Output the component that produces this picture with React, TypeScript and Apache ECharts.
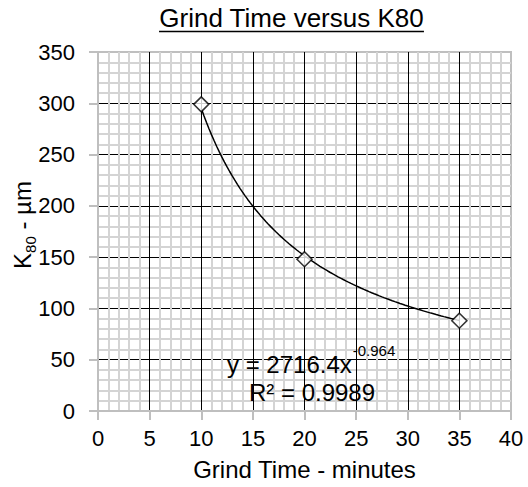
import React, { useEffect, useRef } from "react";
import * as echarts from "echarts";

// ---- data ----
const grindTime = [10, 20, 35];
const k80 = [299, 148, 88];
const trendCoef = 2716.4;
const trendExp = -0.964;
const rSquared = 0.9989;
const trendFrom = 10;
const trendTo = 35;
const xAxisRange = [0, 40];
const xAxisStep = 5;
const yAxisRange = [0, 350];
const yAxisStep = 50;
const titleText = "Grind Time versus K80";
const xName = "Grind Time - minutes";

const FONT = '"Liberation Sans", Arial, sans-serif';

function textWidth(t: string, size: number): number {
  const c = document.createElement("canvas").getContext("2d");
  if (!c) return t.length * size * 0.55;
  c.font = `${size}px ${FONT}`;
  return c.measureText(t).width;
}

export default function App() {
  const ref = useRef<HTMLDivElement>(null);

  useEffect(() => {
    document.body.style.margin = "0";
    if (!ref.current) return;
    const chart = echarts.init(ref.current, undefined, { renderer: "svg" });

    const scatterData = grindTime.map((x, i) => [x, k80[i]]);
    const trendData: number[][] = [];
    for (let x = trendFrom; x <= trendTo + 1e-9; x += 0.25) {
      trendData.push([x, trendCoef * Math.pow(x, trendExp)]);
    }

    const titleSize = 26;
    const titleW = textWidth(titleText, titleSize);
    const titleCx = 291.5;

    const eqSize = 24;
    const supSize = 15;
    const eqMain = `y = ${trendCoef}x`;
    const eqSup = `${trendExp}`;
    const eqMainW = textWidth(eqMain, eqSize);
    const eqX = 227;

    const ySize = 24;
    const subSize = 15;
    const kW = textWidth("K", ySize);
    const subW = textWidth("80", subSize);
    const restW = textWidth(" - µm", ySize);
    const totalY = kW + subW + restW;

    const axisLabelStyle = { fontSize: 22, color: "#000", fontFamily: FONT };

    chart.setOption({
      animation: false,
      grid: {
        left: 98,
        right: 17,
        top: 52,
        bottom: 76,
        show: true,
        borderColor: "#bfbfbf",
        borderWidth: 2,
        backgroundColor: "transparent",
      },
      xAxis: {
        type: "value",
        min: xAxisRange[0],
        max: xAxisRange[1],
        interval: xAxisStep,
        name: xName,
        nameLocation: "middle",
        nameGap: 46,
        nameTextStyle: { fontSize: 24, color: "#000", fontFamily: FONT },
        axisLine: { show: true, lineStyle: { color: "#bfbfbf", width: 2 } },
        axisTick: { show: true, length: 9, lineStyle: { color: "#bfbfbf", width: 2 } },
        axisLabel: { ...axisLabelStyle, margin: 16 },
        splitLine: {
          show: true,
          showMinLine: false,
          showMaxLine: false,
          lineStyle: { color: "#000", width: 1 },
        },
        minorTick: { show: false, splitNumber: 5 },
        minorSplitLine: { show: true, lineStyle: { color: "#d4d4d4", width: 2 } },
      },
      yAxis: {
        type: "value",
        min: yAxisRange[0],
        max: yAxisRange[1],
        interval: yAxisStep,
        axisLine: { show: true, lineStyle: { color: "#bfbfbf", width: 2 } },
        axisTick: { show: true, length: 9, lineStyle: { color: "#bfbfbf", width: 2 } },
        axisLabel: { ...axisLabelStyle, margin: 23 },
        splitLine: {
          show: true,
          showMinLine: false,
          showMaxLine: false,
          lineStyle: { color: "#000", width: 1 },
        },
        minorTick: { show: false, splitNumber: 5 },
        minorSplitLine: { show: true, lineStyle: { color: "#d4d4d4", width: 2 } },
      },
      series: [
        {
          type: "line",
          data: trendData,
          showSymbol: false,
          symbol: "none",
          smooth: false,
          lineStyle: { color: "#000", width: 1.5 },
          z: 3,
          silent: true,
        },
        {
          type: "scatter",
          data: scatterData,
          symbol: "diamond",
          symbolSize: [15, 15],
          itemStyle: { color: "#fff", borderColor: "#000", borderWidth: 1.6 },
          z: 4,
        },
      ],
      graphic: [
        {
          type: "text",
          x: titleCx,
          y: 18,
          style: {
            text: titleText,
            fontSize: titleSize,
            fontFamily: FONT,
            fill: "#000",
            align: "center",
            verticalAlign: "middle",
          },
        },
        {
          type: "line",
          shape: { x1: titleCx - titleW / 2, y1: 31.5, x2: titleCx + titleW / 2, y2: 31.5 },
          style: { stroke: "#000", lineWidth: 1.5 },
        },
        {
          type: "text",
          x: eqX,
          y: 364,
          z: 10,
          style: {
            text: eqMain,
            fontSize: eqSize,
            fontFamily: FONT,
            fill: "#000",
            align: "left",
            verticalAlign: "middle",
          },
        },
        {
          type: "text",
          x: eqX + eqMainW + 1,
          y: 350,
          z: 10,
          style: {
            text: eqSup,
            fontSize: supSize,
            fontFamily: FONT,
            fill: "#000",
            align: "left",
            verticalAlign: "middle",
          },
        },
        {
          type: "text",
          x: 312,
          y: 392,
          z: 10,
          style: {
            text: `R² = ${rSquared}`,
            fontSize: eqSize,
            fontFamily: FONT,
            fill: "#000",
            align: "center",
            verticalAlign: "middle",
          },
        },
        {
          type: "group",
          x: 22,
          y: 225,
          rotation: Math.PI / 2,
          children: [
            {
              type: "text",
              x: -totalY / 2,
              y: 0,
              style: {
                text: "K",
                fontSize: ySize,
                fontFamily: FONT,
                fill: "#000",
                align: "left",
                verticalAlign: "middle",
              },
            },
            {
              type: "text",
              x: -totalY / 2 + kW,
              y: 8,
              style: {
                text: "80",
                fontSize: subSize,
                fontFamily: FONT,
                fill: "#000",
                align: "left",
                verticalAlign: "middle",
              },
            },
            {
              type: "text",
              x: -totalY / 2 + kW + subW,
              y: 0,
              style: {
                text: " - µm",
                fontSize: ySize,
                fontFamily: FONT,
                fill: "#000",
                align: "left",
                verticalAlign: "middle",
              },
            },
          ],
        },
      ],
    });

    return () => chart.dispose();
  }, []);

  return <div ref={ref} style={{ width: 528, height: 487 }} />;
}
